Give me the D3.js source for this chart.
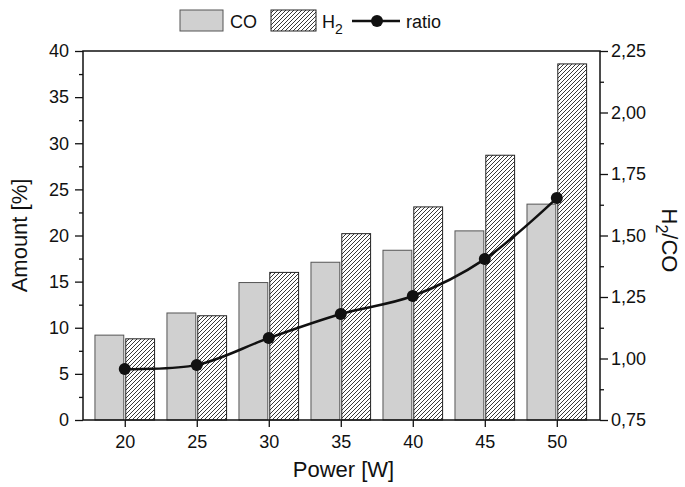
<!DOCTYPE html>
<html><head><meta charset="utf-8">
<script src="https://cdn.jsdelivr.net/npm/d3@7"></script>
<style>body{margin:0;background:#fff}svg{font-family:"Liberation Sans",Arial,sans-serif}</style>
</head><body><svg id="c" width="685" height="487"></svg>
<script>
const power = [20, 25, 30, 35, 40, 45, 50];
const coValues = [9.2, 11.6, 14.9, 17.1, 18.4, 20.5, 23.4];
const h2Values = [8.8, 11.3, 16.0, 20.2, 23.1, 28.7, 38.6];
const ratioValues = [0.957, 0.974, 1.083, 1.181, 1.254, 1.404, 1.652];
const leftTicks = [0, 5, 10, 15, 20, 25, 30, 35, 40];
const rightTicks = [0.75, 1.00, 1.25, 1.50, 1.75, 2.00, 2.25];
const xTicks = [20, 25, 30, 35, 40, 45, 50];

const svg = d3.select("#c");
const L = 83, R = 600, T = 51, B = 420;
const x = d3.scaleLinear().domain([17.1, 53]).range([L, R]);
const y = d3.scaleLinear().domain([0, 40]).range([B, T]);
const y2 = d3.scaleLinear().domain([0.75, 2.25]).range([B, T]);

const defs = svg.append("defs");
const pat = defs.append("pattern").attr("id", "hatch").attr("patternUnits", "userSpaceOnUse")
  .attr("width", 4).attr("height", 4);
pat.append("rect").attr("width", 4).attr("height", 4).attr("fill", "#fff");
pat.append("path").attr("d", "M-1,1 l2,-2 M0,4 l4,-4 M3,5 l2,-2").attr("stroke", "#222").attr("stroke-width", 0.9);

const bw = 2.07;
const g = svg.append("g");
g.selectAll(".co").data(power).join("rect")
  .attr("x", (d) => x(d - bw)).attr("width", (d) => x(d) - x(d - bw) - 1)
  .attr("y", (d, i) => y(coValues[i])).attr("height", (d, i) => B - y(coValues[i]))
  .attr("fill", "#d0d0d0").attr("stroke", "#555").attr("stroke-width", 1);
g.selectAll(".h2").data(power).join("rect")
  .attr("x", (d) => x(d) + 1).attr("width", (d) => x(d + bw) - x(d) - 1)
  .attr("y", (d, i) => y(h2Values[i])).attr("height", (d, i) => B - y(h2Values[i]))
  .attr("fill", "url(#hatch)").attr("stroke", "#222").attr("stroke-width", 1);

const line = d3.line().x((d) => x(d)).y((d, i) => y2(ratioValues[i])).curve(d3.curveCatmullRom.alpha(0.5));
svg.append("path").datum(power).attr("d", line).attr("fill", "none").attr("stroke", "#111").attr("stroke-width", 2.5);
svg.selectAll(".pt").data(power).join("circle").attr("cx", (d) => x(d)).attr("cy", (d, i) => y2(ratioValues[i]))
  .attr("r", 6).attr("fill", "#111");

svg.append("rect").attr("x", L).attr("y", T).attr("width", R - L).attr("height", B - T)
  .attr("fill", "none").attr("stroke", "#111").attr("stroke-width", 1.5);

const fmt2 = (d) => d3.format(".2f")(d).replace(".", ",");
svg.append("g").attr("transform", `translate(0,${B})`)
  .call(d3.axisBottom(x).tickValues(xTicks).tickSize(7).tickPadding(8).tickFormat(d3.format("d")));
svg.append("g").attr("transform", `translate(${L},0)`)
  .call(d3.axisLeft(y).tickValues(leftTicks).tickSize(8).tickPadding(6));
svg.append("g").attr("transform", `translate(${R},0)`)
  .call(d3.axisRight(y2).tickValues(rightTicks).tickSize(8).tickPadding(3).tickFormat(fmt2));
svg.append("g").attr("transform", `translate(${L},0)`)
  .call(d3.axisLeft(y).tickValues(d3.range(2.5, 40, 5)).tickSize(4).tickFormat(""));
svg.append("g").attr("transform", `translate(${R},0)`)
  .call(d3.axisRight(y2).tickValues(d3.range(0.875, 2.25, 0.25)).tickSize(4).tickFormat(""));
svg.selectAll(".domain").remove();
svg.selectAll(".tick line").attr("stroke", "#111").attr("stroke-width", 1.3);
svg.selectAll(".tick text").attr("font-size", 18).attr("fill", "#111").style("font-family", "Liberation Sans, Arial, sans-serif");

svg.append("text").attr("x", (L + R) / 2 + 2).attr("y", 477).attr("text-anchor", "middle")
  .attr("font-size", 22).attr("fill", "#111").text("Power [W]");
svg.append("text").attr("transform", `translate(27,${(T + B) / 2}) rotate(-90)`).attr("text-anchor", "middle")
  .attr("font-size", 22).attr("fill", "#111").text("Amount [%]");
const rt = svg.append("text").attr("transform", `translate(662,${(T + B) / 2 + 5}) rotate(90)`).attr("text-anchor", "middle")
  .attr("font-size", 22).attr("fill", "#111");
rt.append("tspan").text("H");
rt.append("tspan").attr("font-size", 16).attr("dy", 6).text("2");
rt.append("tspan").attr("dy", -6).text("/CO");

const lg = svg.append("g");
lg.append("rect").attr("x", 180).attr("y", 10).attr("width", 43).attr("height", 21).attr("fill", "#d0d0d0").attr("stroke", "#555");
lg.append("text").attr("x", 230).attr("y", 28).attr("font-size", 18).attr("fill", "#111").text("CO");
lg.append("rect").attr("x", 271).attr("y", 10).attr("width", 45).attr("height", 21).attr("fill", "url(#hatch)").attr("stroke", "#222");
const lt = lg.append("text").attr("x", 322).attr("y", 28).attr("font-size", 18).attr("fill", "#111");
lt.append("tspan").text("H");
lt.append("tspan").attr("font-size", 14).attr("dy", 6).text("2");
lg.append("line").attr("x1", 352).attr("x2", 400).attr("y1", 21).attr("y2", 21).attr("stroke", "#111").attr("stroke-width", 2.5);
lg.append("circle").attr("cx", 377).attr("cy", 21).attr("r", 6).attr("fill", "#111");
lg.append("text").attr("x", 406).attr("y", 28).attr("font-size", 18).attr("fill", "#111").text("ratio");
</script></body></html>
